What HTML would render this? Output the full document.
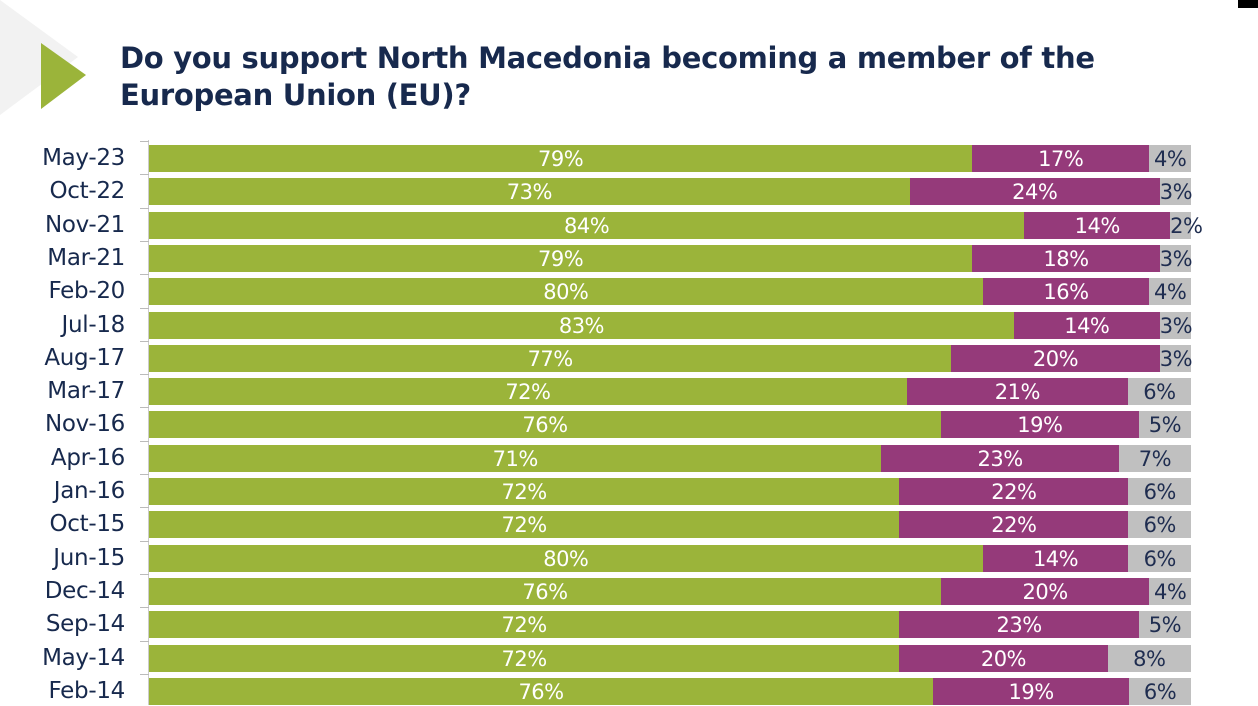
<!DOCTYPE html>
<html><head><meta charset="utf-8"><style>
body{margin:0;width:1258px;height:705px;overflow:hidden;background:#fff;font-family:"DejaVu Sans","Liberation Sans",sans-serif;position:relative}
.tri{position:absolute}
h1{position:absolute;left:120px;top:40px;margin:0;font-size:29px;line-height:37px;font-weight:bold;color:#17294d;letter-spacing:-0.3px}
.row{position:absolute;left:149px;width:1042px;height:27px;display:flex}
.row div{height:27px;line-height:28px;text-align:center;font-size:21px;color:#fff;white-space:nowrap;overflow:visible;letter-spacing:-0.5px}
.g{background:#9bb43a}.p{background:#953a7a}.r{background:#c0c0c0;color:#1f2d50!important}
.lab{position:absolute;left:0;width:125px;text-align:right;font-size:23px;color:#17294d;line-height:27px;letter-spacing:-0.3px}
.tick{position:absolute;left:140px;width:9px;height:1px;background:#bbb}
</style></head><body>
<svg class="tri" width="120" height="120" style="left:0;top:0"><polygon points="0,0 78,57 0,115" fill="#f2f2f2"/><polygon points="41,43 86,75 41,109" fill="#9bb43a"/></svg>
<div style="position:absolute;left:1238px;top:0;width:20px;height:8px;background:#000"></div>
<h1>Do you support North Macedonia becoming a member of the<br>European Union (EU)?</h1>
<div style="position:absolute;left:148px;top:140px;width:1px;height:565px;background:#ccc"></div>
<div id="c"></div>
<script>
var d=[["May-23",79,17,4],["Oct-22",73,24,3],["Nov-21",84,14,2],["Mar-21",79,18,3],["Feb-20",80,16,4],["Jul-18",83,14,3],["Aug-17",77,20,3],["Mar-17",72,21,6],["Nov-16",76,19,5],["Apr-16",71,23,7],["Jan-16",72,22,6],["Oct-15",72,22,6],["Jun-15",80,14,6],["Dec-14",76,20,4],["Sep-14",72,23,5],["May-14",72,20,8],["Feb-14",76,19,6]];
var h="";
d.forEach(function(r,i){var y=145+i*33.3;var t=r[1]+r[2]+r[3];
h+='<div class="lab" style="top:'+y+'px">'+r[0]+'</div>';
h+='<div class="tick" style="top:'+(y-4)+'px"></div>';
h+='<div class="row" style="top:'+y+'px"><div class="g" style="width:'+(r[1]/t*1042)+'px">'+r[1]+'%</div><div class="p" style="width:'+(r[2]/t*1042)+'px">'+r[2]+'%</div><div class="r" style="width:'+(r[3]/t*1042)+'px">'+r[3]+'%</div></div>';});
document.getElementById("c").innerHTML=h;
</script>
</body></html>
